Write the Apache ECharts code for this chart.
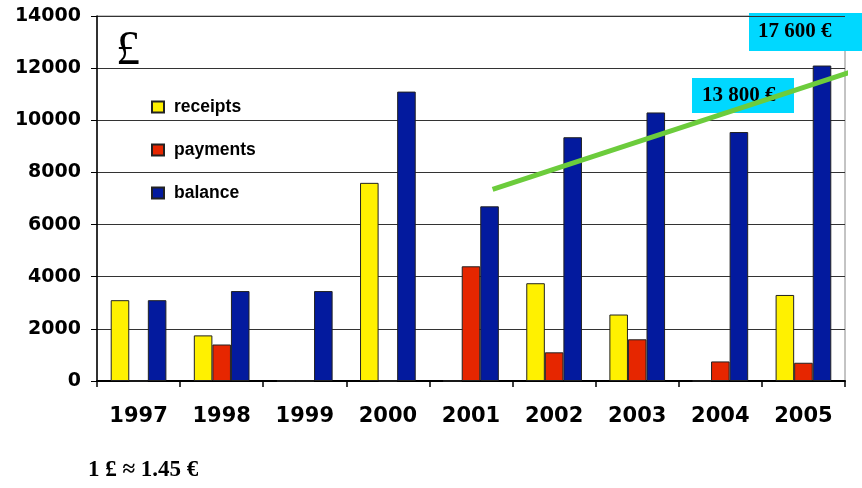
<!DOCTYPE html>
<html>
<head>
<meta charset="utf-8">
<script src="https://cdn.jsdelivr.net/npm/echarts@6/dist/echarts.min.js"></script>
<style>html,body{margin:0;padding:0;background:#fff;}#c{width:862px;height:488px;}</style>
</head>
<body>
<div id="c"></div>
<script>
const categories = ['1997','1998','1999','2000','2001','2002','2003','2004','2005'];
const receipts = [3100, 1750, 0, 7600, 0, 3750, 2550, 0, 3300];
const payments = [0, 1400, 0, 0, 4400, 1100, 1600, 750, 700];
const balance = [3100, 3450, 3450, 11100, 6700, 9350, 10300, 9550, 12100];
const yTicks = [0, 2000, 4000, 6000, 8000, 10000, 12000, 14000];
// trend line in (category-index space, value) coordinates
const trendX = [4.76, 9.2];
const trendY = [7350, 11990];
const boxLabels = ['17 600 €', '13 800 €'];
const currencyNote = '1 £ ≈ 1.45 €';

const chart = echarts.init(document.getElementById('c'));
const barBorder = {borderColor: '#222', borderWidth: 1};
chart.setOption({
  animation: false,
  backgroundColor: '#fff',
  grid: {left: 97, right: 17, top: 16, bottom: 107, show: true, borderColor: '#888', borderWidth: 1},
  legend: {
    orient: 'vertical', left: 146, top: 93, itemGap: 25, icon: 'rect',
    itemWidth: 12, itemHeight: 11,
    textStyle: {fontFamily: 'Liberation Sans', fontWeight: 'bold', fontSize: 17.5, color: '#000', lineHeight: 16, padding: [0, 0, 0, 5]},
    data: ['receipts', 'payments', 'balance']
  },
  xAxis: [{
    type: 'category', data: categories,
    axisLine: {lineStyle: {color: '#000', width: 2}},
    axisTick: {show: true, length: 6, lineStyle: {color: '#000', width: 1.5}},
    axisLabel: {fontFamily: 'DejaVu Sans', fontWeight: 'bold', fontSize: 21, color: '#000', margin: 25}
  }, {
    type: 'value', min: 0, max: categories.length, show: false
  }],
  yAxis: {
    type: 'value', min: yTicks[0], max: yTicks[yTicks.length - 1], interval: 2000,
    axisLine: {show: true, lineStyle: {color: '#000', width: 1.5}},
    axisTick: {show: true, length: 6, lineStyle: {color: '#000'}},
    splitLine: {lineStyle: {color: '#333', width: 1}},
    axisLabel: {fontFamily: 'DejaVu Sans', fontWeight: 'bold', fontSize: 19, color: '#000', margin: 16,
      formatter: v => String(v)}
  },
  graphic: {
    z: 1,
    elements: [
      {type: 'rect', shape: {x: 110, y: 18, width: 76, height: 57}, style: {fill: '#fff'}},
      {type: 'rect', shape: {x: 110, y: 75, width: 176, height: 140}, style: {fill: '#fff'}},
      {type: 'text', x: 116, y: 27, style: {text: '£', font: '48px "Liberation Serif"', fill: '#000'}},
      {type: 'rect', shape: {x: 749, y: 13, width: 113, height: 38}, style: {fill: '#00D8FF'}},
      {type: 'text', x: 758, y: 32, style: {text: boxLabels[0], font: 'bold 21px "Liberation Serif"', fill: '#000', verticalAlign: 'middle'}},
      {type: 'rect', shape: {x: 692, y: 78, width: 102, height: 35}, style: {fill: '#00D8FF'}},
      {type: 'text', x: 702, y: 96, style: {text: boxLabels[1], font: 'bold 21px "Liberation Serif"', fill: '#000', verticalAlign: 'middle'}},
      {type: 'text', x: 88, y: 470, style: {text: currencyNote, font: 'bold 23px "Liberation Serif"', fill: '#000', verticalAlign: 'middle'}}
    ]
  },
  series: [
    {name: 'receipts', type: 'bar', data: receipts, barGap: '0%', barCategoryGap: '33%', itemStyle: Object.assign({color: '#FFF100'}, barBorder)},
    {name: 'payments', type: 'bar', data: payments, itemStyle: Object.assign({color: '#E62600'}, barBorder)},
    {name: 'balance', type: 'bar', data: balance, itemStyle: Object.assign({color: '#031A9E'}, barBorder)},
    {name: 'trend', type: 'line', xAxisIndex: 1, clip: false, symbol: 'none', silent: true,
     data: trendX.map((x, i) => [x, trendY[i]]),
     lineStyle: {color: '#6CCC3C', width: 5}, z: 5}
  ]
});
</script>
</body>
</html>
